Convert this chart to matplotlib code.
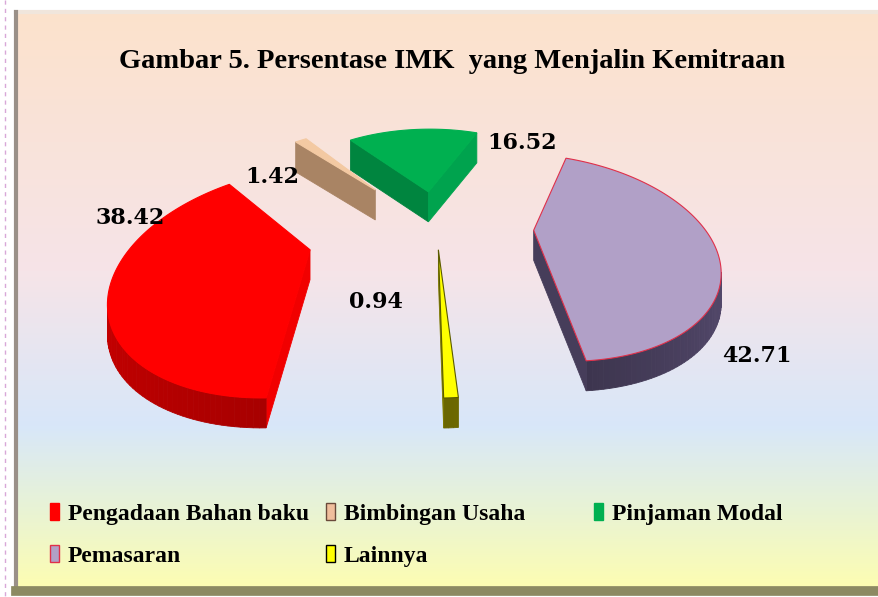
import numpy as np
import matplotlib
matplotlib.use('Agg')
import matplotlib.pyplot as plt
from matplotlib.patches import Patch
from matplotlib.colors import to_rgb

# Data
categories = ['Pengadaan Bahan baku', 'Bimbingan Usaha', 'Pinjaman Modal', 'Pemasaran', 'Lainnya']
values = [38.42, 1.42, 16.52, 42.71, 0.94]
title = 'Gambar 5. Persentase IMK  yang Menjalin Kemitraan'

# Styles
top_colors = ['#ff0000', '#f3c9a2', '#00b050', '#b1a0c7', '#ffff00']
side_colors = ['#b00000', '#9c7a5c', '#007a3a', '#3e3650', '#6e6a00']
edge_colors = ['#ff0000', '#f3c9a2', '#00b050', '#e0304a', '#5a5a00']
explode = [0.75, 0.55, 0.36, 0.575, 0.28]
explode_turn = [0, 6, 0, 0, 0]  # degrees added to the explode direction
label_pos = [(130, 218), (272, 177), (522, 143), (757, 356), (376, 302)]

W, H = 879, 597
fig = plt.figure(figsize=(W / 100, H / 100), dpi=100)
ax = fig.add_axes([0, 0, 1, 1])
ax.set_xlim(0, W)
ax.set_ylim(H, 0)
ax.axis('off')

# Background gradient panel
stops = [(0.0, (252, 226, 204)), (0.45, (246, 228, 232)), (0.72, (216, 231, 249)),
         (0.86, (232, 243, 214)), (1.0, (253, 253, 178))]
ys = np.linspace(0, 1, 300)
grad = np.zeros((300, 1, 3))
for ch in range(3):
    grad[:, 0, ch] = np.interp(ys, [s[0] for s in stops], [s[1][ch] / 255 for s in stops])
ax.imshow(grad, extent=[16, W, 588, 12], aspect='auto', zorder=0)
ax.plot([16, W], [12, 12], color='#f0e6dc', lw=3, zorder=1)
ax.plot([16, 16], [12, 590], color='#9a9088', lw=3, zorder=1)
ax.plot([16, W], [591, 591], color='#8c8a62', lw=7, zorder=1)
ax.plot([5, 5], [0, H], color='#d8a8d8', lw=1, ls=(0, (3, 3)), zorder=1)

# 3D pie: perspective top faces, sides dropped by a fixed depth on screen
E = np.radians(50)
dcam = 2.5
Sx, Sy = 168.0, 120.5
cx, cy = 436.0, 222.0
depth = 30
start = -89.0


def proj(p):
    X, Y = p[:, 0], p[:, 1]
    w = 1 + Y * np.cos(E) / dcam
    v = Y * np.sin(E)
    return cx + Sx * X / w, cy - Sy * v / w


def shade(col, f):
    return tuple(np.clip(np.array(to_rgb(col)) * f, 0, 1))


total = sum(values)
slices = []
cum = 0.0
for i, val in enumerate(values):
    th0 = np.radians(start - cum / total * 360)
    th1 = np.radians(start - (cum + val) / total * 360)
    cum += val
    mid = (th0 + th1) / 2
    ang = mid + np.radians(explode_turn[i])
    off = explode[i] * np.array([np.cos(ang), np.sin(ang)])
    slices.append((i, th0, th1, mid, off))

# far slices first
slices.sort(key=lambda s: -(s[4][1] + 0.5 * np.sin(s[3])))

for i, th0, th1, mid, off in slices:
    n_pts = max(3, int(abs(th1 - th0) / np.radians(1.5)) + 2)
    t = np.linspace(th0, th1, n_pts)
    arc = np.stack([off[0] + np.cos(t), off[1] + np.sin(t)], axis=1)
    top = np.vstack([off, arc])
    tx, ty = proj(top)
    gx, gy = tx.mean(), ty.mean()
    # outward normal angle of every edge of the top face
    edge_ang = [th0 + np.pi / 2] + list((t[:-1] + t[1:]) / 2) + [th1 - np.pi / 2]
    rx, ry = np.append(tx, tx[0]), np.append(ty, ty[0])
    for j, na in enumerate(edge_ang):
        px, py, qx, qy = rx[j], ry[j], rx[j + 1], ry[j + 1]
        nx, ny = qy - py, -(qx - px)
        if nx * ((px + qx) / 2 - gx) + ny * ((py + qy) / 2 - gy) < 0:
            nx, ny = -nx, -ny
        if ny <= 0:
            continue
        f = 0.95 + 0.3 * abs(np.cos(na)) + 0.12 * np.cos(na)
        col = shade(side_colors[i], f)
        ax.fill([px, qx, qx, px], [py, qy, qy + depth, py + depth], fc=col, ec=col, lw=0.6, zorder=3)
    ax.fill(tx, ty, fc=top_colors[i], ec=edge_colors[i], lw=0.8, zorder=3)

# Data labels
for i, val in enumerate(values):
    ax.text(label_pos[i][0], label_pos[i][1], f'{val:.2f}', ha='center', va='center',
            fontsize=16, fontweight='bold', family='DejaVu Serif', zorder=5)

ax.text(452, 62, title, ha='center', va='center', fontsize=20.5, fontweight='bold',
        family='Liberation Serif', zorder=5)

# Legend in three columns
handles = [Patch(facecolor=top_colors[0], edgecolor=top_colors[0]),
           Patch(facecolor='#f0be9c', edgecolor='#6a4a3a'),
           Patch(facecolor=top_colors[2], edgecolor=top_colors[2]),
           Patch(facecolor=top_colors[3], edgecolor='#e0304a'),
           Patch(facecolor=top_colors[4], edgecolor='#000000')]
cols = [[0, 3], [1, 4], [2]]
col_x = [50, 326, 594]
for c, x0 in zip(cols, col_x):
    fig.legend([handles[k] for k in c], [categories[k] for k in c],
               loc='upper left', bbox_to_anchor=(x0 / W, 1 - 503 / H), frameon=False,
               borderpad=0, borderaxespad=0, handlelength=0.4, handleheight=0.75,
               handletextpad=0.35, labelspacing=0.85,
               prop={'family': 'Liberation Serif', 'weight': 'bold', 'size': 17})

fig.savefig('out.png', dpi=100)
